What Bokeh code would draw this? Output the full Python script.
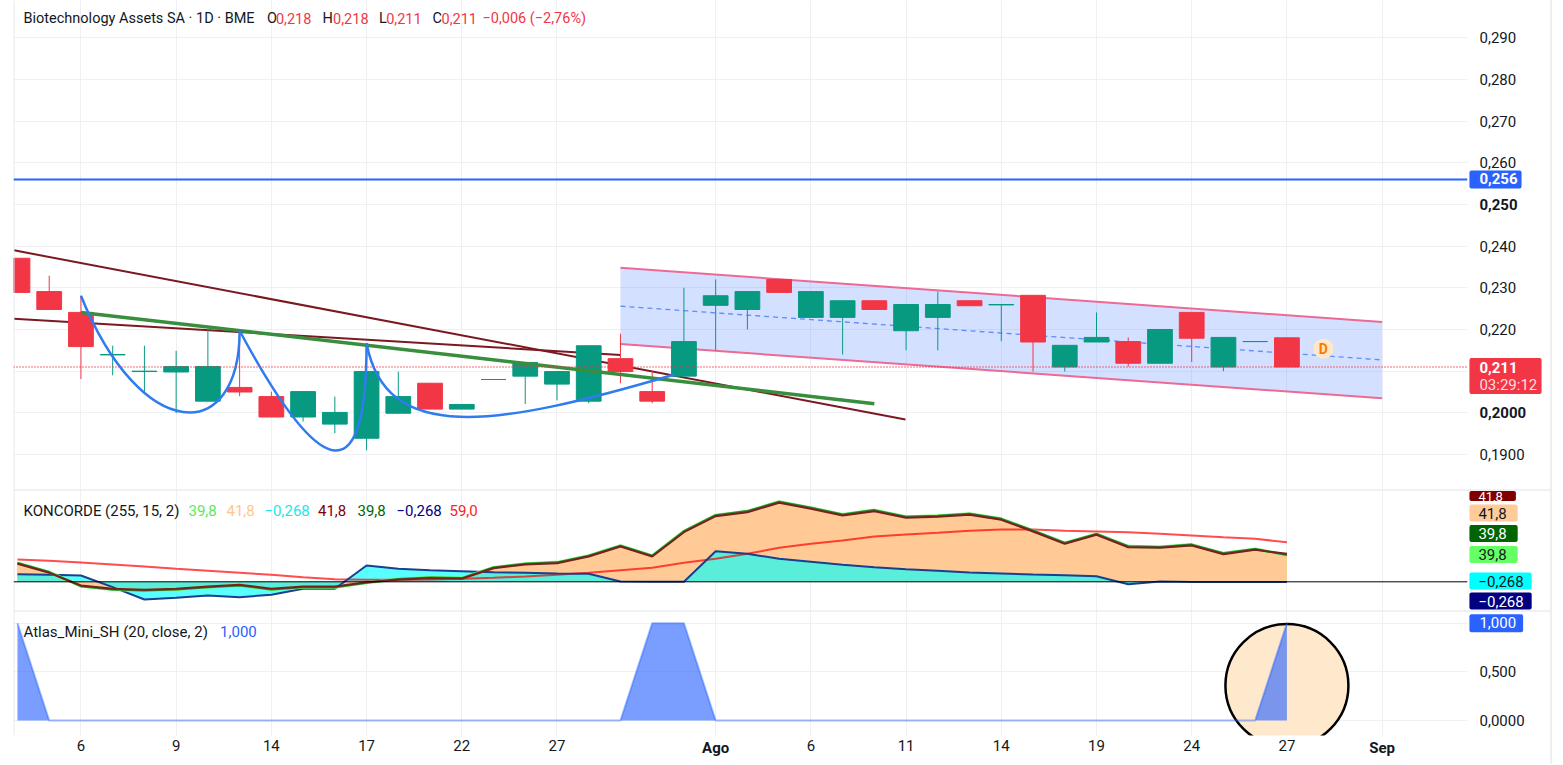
from bokeh.plotting import figure
from bokeh.layouts import column
from bokeh.models import Range1d, FixedTicker, Grid, Label, Span, ColumnDataSource
from bokeh.core.properties import value
from bokeh.embed import file_html
from bokeh.resources import INLINE

# ------------------------------------------------------------------ data
bars = list(range(41))
opens = [0.2371, 0.2291, 0.2241, 0.2139, 0.2099, 0.2098, 0.2028, 0.2061, 0.2039, 0.1990,
         0.1973, 0.1939, 0.1999, 0.2071, 0.2009, 0.2080, 0.2088, 0.2069, 0.2028, 0.2130,
         0.2051, 0.2088, 0.2258, 0.2248, 0.2320, 0.2229, 0.2229, 0.2269, 0.2197, 0.2229,
         0.2269, 0.2259, 0.2282, 0.2110, 0.2170, 0.2171, 0.2119, 0.2241, 0.2110, 0.2171, 0.2180]
highs = [0.2371, 0.2329, 0.2281, 0.2161, 0.2161, 0.2149, 0.2202, 0.2197, 0.2051, 0.2051,
         0.2039, 0.2147, 0.2099, 0.2071, 0.2020, 0.2080, 0.2121, 0.2099, 0.2161, 0.2190,
         0.2100, 0.2300, 0.2320, 0.2291, 0.2320, 0.2291, 0.2269, 0.2269, 0.2260, 0.2291,
         0.2269, 0.2260, 0.2282, 0.2162, 0.2241, 0.2181, 0.2200, 0.2241, 0.2181, 0.2171, 0.2180]
lows = [0.2289, 0.2248, 0.2081, 0.2090, 0.2050, 0.1999, 0.2028, 0.2040, 0.1990, 0.1979,
        0.1951, 0.1910, 0.1999, 0.2009, 0.2009, 0.2080, 0.2021, 0.2030, 0.2023, 0.2071,
        0.2023, 0.2088, 0.2150, 0.2200, 0.2289, 0.2229, 0.2140, 0.2248, 0.2150, 0.2150,
        0.2257, 0.2172, 0.2099, 0.2099, 0.2170, 0.2111, 0.2119, 0.2122, 0.2100, 0.2171, 0.2110]
closes = [0.2289, 0.2248, 0.2159, 0.2140, 0.2100, 0.2111, 0.2111, 0.2050, 0.1990, 0.2051,
          0.2001, 0.2099, 0.2039, 0.2009, 0.2020, 0.2080, 0.2121, 0.2099, 0.2161, 0.2099,
          0.2028, 0.2171, 0.2281, 0.2291, 0.2289, 0.2291, 0.2269, 0.2248, 0.2260, 0.2260,
          0.2257, 0.2260, 0.2170, 0.2162, 0.2181, 0.2119, 0.2200, 0.2179, 0.2181, 0.2171, 0.2110]

xtick_pos = [2, 5, 8, 11, 14, 17, 22, 25, 28, 31, 34, 37, 40, 43]
xtick_labels = ["6", "9", "14", "17", "22", "27", "Ago", "6", "11", "14", "19", "24", "27", "Sep"]
xtick_bold = ["Ago", "Sep"]

price_ticks = [0.19, 0.2, 0.21, 0.22, 0.23, 0.24, 0.25, 0.26, 0.27, 0.28, 0.29]
price_tick_labels = ["0,1900", "0,2000", "0,210", "0,220", "0,230", "0,240", "0,250",
                     "0,260", "0,270", "0,280", "0,290"]
price_bold = ["0,2000", "0,250"]

# Koncorde (255, 15, 2)
koncorde_marron = [26.9, 13.4, -5.5, -10.4, -11.9, -10.4, -7.0, -4.5, -10.4, -7.0,
                   -7.0, -0.6, 3.0, 5.4, 4.5, 20.3, 25.8, 27.8, 37.8, 52.7,
                   37.8, 74.0, 97.9, 103.9, 117.9, 108.9, 99.0, 105.4, 95.5, 97.0,
                   100.0, 92.5, 75.0, 56.7, 70.1, 51.6, 50.7, 54.2, 41.2, 47.8, 41.8]
koncorde_verde = [28.0, 14.5, -6.5, -11.5, -13.0, -11.5, -8.0, -5.5, -11.5, -8.0,
                  -8.0, -1.5, 4.0, 6.5, 5.5, 21.5, 27.0, 29.0, 39.0, 54.0,
                  39.0, 75.5, 99.5, 105.5, 119.5, 110.5, 100.5, 107.0, 97.0, 98.5,
                  101.5, 94.0, 76.5, 58.0, 71.5, 53.0, 52.0, 55.5, 42.5, 49.0, 39.8]
koncorde_azul = [11.3, 10.4, 9.4, -8.0, -26.4, -23.9, -20.4, -22.9, -19.4, -10.4,
                 -10.4, 24.3, 19.4, 17.4, 15.9, 14.4, 13.4, 12.4, 11.9, 0.4,
                 0.0, 0.0, 45.7, 41.8, 34.3, 29.9, 25.4, 21.8, 18.8, 16.4,
                 13.9, 12.4, 10.9, 9.9, 8.4, -3.6, 0.4, -0.3, -0.3, -0.3, -0.268]
koncorde_media = [33.3, 31.3, 28.8, 25.8, 22.8, 19.4, 16.4, 13.4, 10.4, 6.9,
                  3.9, 3.0, 3.0, 3.4, 4.5, 6.0, 7.9, 10.4, 13.4, 17.4,
                  20.9, 28.4, 34.3, 41.8, 50.7, 56.7, 61.6, 67.6, 70.6, 73.1,
                  76.1, 78.1, 78.1, 76.1, 75.1, 74.0, 71.6, 69.1, 66.6, 64.2, 59.0]

# Atlas_Mini_SH (20, close, 2)
atlas = [1, 0, 0, 0, 0, 0, 0, 0, 0, 0,
         0, 0, 0, 0, 0, 0, 0, 0, 0, 0,
         1, 1, 0, 0, 0, 0, 0, 0, 0, 0,
         0, 0, 0, 0, 0, 0, 0, 0, 0, 0, 1]

# drawings on the price pane (bar index, price)
level_price = 0.256
channel_x = [19, 43]
channel_upper = [0.2348, 0.2218]
channel_mid = [0.2256, 0.2127]
channel_lower = [0.2165, 0.2035]
trend_long_x = [-0.11, 27.98]
trend_long_y = [0.2390, 0.1984]
trend_short_x = [-0.11, 19.01]
trend_short_y = [0.2226, 0.2139]
trend_green_x = [2.0, 27.0]
trend_green_y = [0.2241, 0.2022]
arc_x0 = [2, 7, 11]
arc_y0 = [0.2281, 0.2197, 0.2167]
arc_cx0 = [3.9, 9.67, 11.6]
arc_cy0 = [0.1923, 0.1819, 0.1924]
arc_cx1 = [7.0, 11.0, 15.0]
arc_cy1 = [0.1923, 0.1819, 0.1964]
arc_x1 = [7, 11, 20.7]
arc_y1 = [0.2197, 0.2167, 0.2092]
dividend_x = [41.15]
dividend_y = [0.2154]
highlight_x = [40]
highlight_y = [0.36]

# ------------------------------------------------------------------ layout helpers
UP, DOWN = "#089981", "#F23645"
DARK = "#131722"
FONT = "Roboto"
W = 1563
XS, XE = -0.125, 45.69
P_TOP, P_BOT = 0.298951, 0.181601
K_TOP, K_BOT = 137.76, -42.84
A_TOP, A_BOT = 1.1305, -0.1542
GRID = "#EEF0F4"
SEP = "#E0E3EB"
X_IN = XE - 0.002          # anchor just inside the right frame edge
AXIS_OFF = 12              # px from frame edge to axis text
BOX_OFF = 2                # px from frame edge to label box


def xd(px):
    return XS + (px - 13.0) * (XE - XS) / 1454.0


def y1(py):
    return P_TOP - py * (P_TOP - P_BOT) / 489.0


def y2(py):
    return K_TOP - (py - 489.0) * (K_TOP - K_BOT) / 121.0


def y3(py):
    return A_TOP - (py - 610.0) * (A_TOP - A_BOT) / 125.0


def label(p, x, y, text, color, bold=False, align="left", size="15px", alpha=1.0):
    p.add_layout(Label(x=x, y=y, x_units="data", y_units="data", text=text,
                       text_color=color, text_font=FONT, text_font_size=size,
                       text_font_style="bold" if bold else "normal",
                       text_align=align, text_baseline="middle", text_alpha=alpha))


def side_text(p, x, y, text, color, x_off=0, y_off=0, bold=False, align="left",
              bg=None, pad=0, alpha=1.0, size="15px"):
    p.text(x=[x], y=[y], text=[text], x_offset=x_off, y_offset=y_off,
           text_color=color, text_alpha=alpha, text_font=value(FONT),
           text_font_size=value(size), text_font_style="bold" if bold else "normal",
           text_align=align, text_baseline="middle",
           background_fill_color=bg, background_fill_alpha=1.0 if bg else 0.0,
           padding=pad, border_radius=2, level="overlay")


xr = Range1d(XS, XE)
xticker = FixedTicker(ticks=xtick_pos)


def base_fig(height, yr, with_xaxis=False, yaxis=True, bottom=0):
    p = figure(width=W, height=height, x_range=xr, y_range=yr,
               x_axis_location="below" if with_xaxis else None,
               x_axis_type="linear" if with_xaxis else None,
               y_axis_location="right", y_axis_type="linear" if yaxis else None,
               output_backend="svg", toolbar_location=None,
               min_border_left=13, min_border_right=96, min_border_top=0,
               min_border_bottom=bottom)
    p.outline_line_color = None
    p.background_fill_color = "white"
    p.border_fill_color = "white"
    if not with_xaxis:
        p.add_layout(Grid(dimension=0, ticker=xticker, grid_line_color=GRID))
    p.add_layout(Span(location=xd(13.5), dimension="height", line_color=SEP, line_width=1))
    # outer border of the widget at the right of the price scale
    yr0, yr1 = yr.start, yr.end
    mid = 0.5 * (yr0 + yr1)
    p.line(x=[X_IN, float("nan"), xd(1550.5), xd(1550.5)],
           y=[mid, float("nan"), yr1 + (yr1 - yr0), yr0 - (yr1 - yr0)],
           line_color="#EDEFF3", line_width=2, level="overlay")
    return p


def separator(p, y):
    p.segment(x0=[xd(13)], y0=[y], x1=[xd(1550)], y1=[y], line_color=SEP,
              line_width=1, level="overlay")


def style_yaxis(p):
    ax = p.yaxis[0]
    ax.axis_line_color = None
    ax.major_tick_line_color = None
    ax.minor_tick_line_color = None
    ax.major_tick_out = 0
    ax.major_tick_in = 0
    ax.major_label_standoff = AXIS_OFF
    ax.major_label_text_font = FONT
    ax.major_label_text_font_size = "15px"
    ax.major_label_text_color = DARK


# ------------------------------------------------------------------ price pane
p1 = base_fig(489, Range1d(P_BOT, P_TOP))
p1.yaxis.ticker = FixedTicker(ticks=price_ticks)
overrides = {}
for t, s in zip(price_ticks, price_tick_labels):
    overrides[t] = "" if (s in price_bold or s == "0,210") else s
p1.yaxis.major_label_overrides = overrides
style_yaxis(p1)
p1.ygrid.grid_line_color = GRID

# channel
p1.patch(x=channel_x + channel_x[::-1], y=channel_upper + channel_lower[::-1],
         fill_color="#2962FF", fill_alpha=0.2, line_color=None)
p1.line(channel_x, channel_upper, line_color="#EC6A95", line_width=2)
p1.line(channel_x, channel_lower, line_color="#EC6A95", line_width=2)
p1.line(channel_x, channel_mid, line_color="#5B8DFF", line_width=1.3, line_dash="5 4")

# horizontal level and last price
p1.add_layout(Span(location=level_price, dimension="width", line_color="#2962FF", line_width=2))
p1.add_layout(Span(location=closes[-1], dimension="width", line_color=DOWN,
                   line_width=1.5, line_dash="1 2"))

# trend lines
p1.line(trend_long_x, trend_long_y, line_color="#7B1820", line_width=2)
p1.line(trend_short_x, trend_short_y, line_color="#7B1820", line_width=2)

# candles
colors = [UP if c >= o else DOWN for o, c in zip(opens, closes)]
src = ColumnDataSource(dict(x=bars, o=opens, h=highs, l=lows, c=closes,
                            top=[max(o, c) for o, c in zip(opens, closes)],
                            bot=[min(o, c) for o, c in zip(opens, closes)],
                            col=colors))
p1.segment(x0="x", y0="l", x1="x", y1="h", source=src, line_color="col", line_width=1)
p1.vbar(x="x", width=0.78, top="top", bottom="bot", source=src,
        fill_color="col", line_color="col", line_width=1)

p1.line(trend_green_x, trend_green_y, line_color="#388E3C", line_width=3.5)
p1.bezier(x0=arc_x0, y0=arc_y0, x1=arc_x1, y1=arc_y1, cx0=arc_cx0, cy0=arc_cy0,
          cx1=arc_cx1, cy1=arc_cy1, line_color="#2F7BF0", line_width=2.5)

# dividend marker
p1.scatter(dividend_x, dividend_y, size=20, marker="circle", fill_color="#FFE8C8",
           line_color=None)
label(p1, dividend_x[0], dividend_y[0], "D", "#F57C00", bold=True, align="center", size="14px")

# legend line
ly = y1(18)
label(p1, xd(23), ly, "Biotechnology Assets SA · 1D · BME", DARK, size="14.5px")
for txt, px, col in [("O", 266.5, DARK), ("0,218", 275.4, DOWN), ("H", 322, DARK),
                     ("0,218", 332.6, DOWN), ("L", 378.6, DARK), ("0,211", 385.7, DOWN),
                     ("C", 432, DARK), ("0,211", 441, DOWN), ("−0,006 (−2,76%)", 482, DOWN)]:
    label(p1, xd(px), ly, txt, col, size="14.5px")

# bold axis labels and axis boxes (drawn in the price-scale strip)
for t, s in zip(price_ticks, price_tick_labels):
    if s in price_bold:
        side_text(p1, X_IN, t, s, DARK, x_off=AXIS_OFF, bold=True)
side_text(p1, X_IN, level_price, "0,256", "white", x_off=BOX_OFF, bold=True, bg="#2962FF",
          pad=dict(left=10, right=4, top=3, bottom=4))
side_text(p1, X_IN, y1(375.5), "0,211", "white", x_off=BOX_OFF, bold=True, bg=DOWN,
          pad=dict(left=10, right=24, top=4, bottom=21))
side_text(p1, X_IN, y1(384), "03:29:12", "white", x_off=AXIS_OFF, alpha=0.85)

# ------------------------------------------------------------------ Koncorde pane
p2 = base_fig(121, Range1d(K_BOT, K_TOP), yaxis=False)
p2.varea(x=bars, y1=0, y2=koncorde_verde, fill_color="#66FF66", fill_alpha=1.0)
p2.varea(x=bars, y1=0, y2=koncorde_marron, fill_color="#FFCA96", fill_alpha=1.0)
p2.varea(x=bars, y1=0, y2=koncorde_azul, fill_color="#00FFFF", fill_alpha=0.65)
p2.add_layout(Span(location=0, dimension="width", line_color="black", line_width=1))
p2.line(bars, koncorde_media, line_color="#FF0000", line_alpha=0.7, line_width=2)
p2.line(bars, koncorde_azul, line_color="#1A3F8F", line_width=2)
p2.line(bars, koncorde_verde, line_color="#66FF66", line_width=3)
p2.line(bars, koncorde_verde, line_color="#2E7D32", line_width=2)
p2.line(bars, koncorde_marron, line_color="#7A1E1E", line_width=2)
separator(p2, y2(489.5))

ky = y2(510)
label(p2, xd(23), ky, "KONCORDE (255, 15, 2)", DARK)
for txt, px, col in [("39,8", 188, "#5BE85B"), ("41,8", 226, "#FFC58F"), ("−0,268", 264, "#22E6E6"),
                     ("41,8", 317.5, "#800000"), ("39,8", 357, "#006400"),
                     ("−0,268", 396, "#000080"), ("59,0", 449, "#FF2020")]:
    label(p2, xd(px), ky, txt, col)

for txt, py, bg, fg, rp, sz, pt, pb in [
        ("41,8", 495.5, "#800000", "white", 13, "13px", 1, 0),
        ("41,8", 512.5, "#FFCC99", DARK, 11, "15px", 3, 3),
        ("39,8", 533, "#006400", "white", 11, "15px", 3, 3),
        ("39,8", 554, "#66FF66", DARK, 11, "15px", 3, 3),
        ("−0,268", 580.5, "#00FFFF", DARK, 8, "15px", 3, 3),
        ("−0,268", 600.5, "#000080", "white", 8, "15px", 3, 3)]:
    side_text(p2, X_IN, y2(py), txt, fg, x_off=BOX_OFF, bg=bg, size=sz,
              pad=dict(left=9, right=rp, top=pt, bottom=pb))

# ------------------------------------------------------------------ Atlas pane
p3 = base_fig(154, Range1d(A_BOT, A_TOP), with_xaxis=True, bottom=29)
p3.yaxis.ticker = FixedTicker(ticks=[0, 0.5, 1])
p3.yaxis.major_label_overrides = {0: "0,0000", 0.5: "0,500", 1: ""}
style_yaxis(p3)
p3.ygrid.grid_line_color = GRID

p3.xaxis.ticker = xticker
p3.xaxis.major_label_overrides = {k: ("" if s in xtick_bold else s)
                                  for k, s in zip(xtick_pos, xtick_labels)}
p3.xaxis.axis_line_color = None
p3.xaxis.major_tick_line_color = None
p3.xaxis.minor_tick_line_color = None
p3.xaxis.major_tick_out = 0
p3.xaxis.major_tick_in = 0
p3.xaxis.major_label_standoff = 4
p3.xaxis.major_label_text_font = FONT
p3.xaxis.major_label_text_font_size = "15px"
p3.xaxis.major_label_text_color = DARK
p3.xgrid.grid_line_color = GRID

p3.scatter(highlight_x, highlight_y, size=123, marker="circle", fill_color="#FFE9CC",
           line_color="black", line_width=2.5)
p3.varea(x=bars, y1=0, y2=atlas, fill_color="#2962FF", fill_alpha=0.62)
p3.line(bars, atlas, line_color="#2962FF", line_alpha=0.45, line_width=2)
separator(p3, y3(610.5))

ay = y3(631)
label(p3, xd(23), ay, "Atlas_Mini_SH (20, close, 2)", DARK)
label(p3, xd(219.6), ay, "1,000", "#2962FF")
side_text(p3, X_IN, 1.0, "1,000", "white", x_off=BOX_OFF, bg="#2962FF",
          pad=dict(left=10, right=7, top=3, bottom=4))
for k, s in zip(xtick_pos, xtick_labels):
    if s in xtick_bold:
        side_text(p3, k, A_BOT + 0.003, s, DARK, y_off=13, bold=True, align="center")

layout = column(p1, p2, p3)
open("out.html", "w").write(file_html(layout, INLINE))
